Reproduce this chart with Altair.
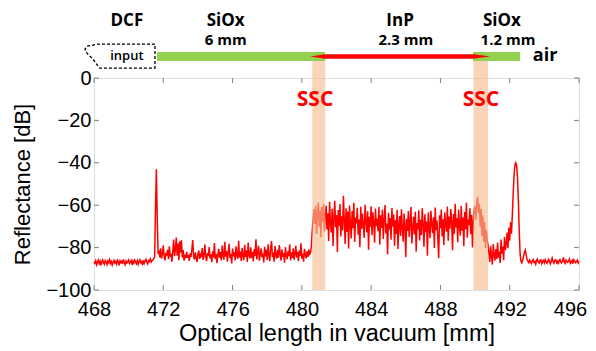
import altair as alt
import pandas as pd

# ---------------- data ----------------
x_start = 468.0
x_step = 0.05

seg_base_left = [
    -86.8, -87.4, -86.2, -88.1, -86.9, -85.9, -87.6, -86.4, -88.3, -86.7,
    -85.8, -87.2, -87.9, -86.1, -86.8, -88.0, -86.3, -87.1, -85.7, -87.5,
    -86.6, -88.2, -86.9, -86.0, -87.3, -86.5, -87.8, -85.9, -86.7, -88.4,
    -86.2, -87.0, -86.4, -87.7, -85.6, -86.9, -88.0, -86.3, -87.2, -86.6,
    -85.8, -87.5, -86.9, -86.1, -88.1, -86.4, -87.3, -85.9, -86.8, -87.6,
    -86.2, -87.9, -86.5, -85.7, -87.1, -86.6, -88.2, -86.0, -87.4, -86.3,
    -85.5, -86.9, -87.7, -86.1, -86.6, -85.4, -86.8, -86.0, -85.9, -85.2]
seg_spike1 = [-84.5, -62.0, -43.0, -66.0, -83.0]
seg_fiber = [
    -82.1, -84.6, -80.3, -85.2, -83.0, -78.9, -84.1, -86.0, -82.5, -83.7,
    -81.0, -85.5, -79.4, -84.3, -82.8, -86.7, -81.6, -76.2, -84.0, -80.9,
    -75.3, -83.8, -78.1, -85.9, -77.0, -82.4, -76.5, -84.7, -81.2, -86.2,
    -83.3, -85.0, -82.0, -84.8, -83.6, -86.3, -82.7, -84.4, -80.8, -76.4,
    -83.9, -85.6, -82.3, -84.9, -86.8, -83.1, -81.4, -85.3, -83.4, -84.5,
    -80.2, -85.8, -83.7, -78.6, -84.2, -86.4, -82.6, -84.0, -79.7, -85.1,
    -83.2, -86.9, -81.8, -84.6, -77.8, -85.4, -82.9, -87.3, -83.5, -80.6,
    -84.8, -82.1, -86.1, -79.0, -83.9, -85.7, -77.3, -84.3, -81.5, -86.6,
    -82.4, -78.2, -85.0, -83.0, -87.5, -80.5, -84.1, -82.2, -86.0, -79.4,
    -83.6, -85.3, -76.8, -84.7, -81.9, -86.3, -80.1, -83.8, -85.9, -78.7,
    -84.4, -81.3, -86.8, -77.6, -83.3, -85.1, -79.9, -84.9, -82.0, -86.5,
    -80.7, -84.0, -76.1, -85.6, -82.5, -79.1, -86.2, -83.1, -80.4, -84.6,
    -82.8, -87.0, -79.6, -84.2, -81.1, -85.8, -78.4, -83.5, -86.4, -80.0,
    -76.9, -84.5, -82.3, -86.7, -79.3, -83.9, -85.2, -81.0, -84.8, -78.8,
    -83.0, -86.1, -80.8, -84.3, -82.6, -87.1, -79.8, -83.7, -85.5, -81.7,
    -84.1, -78.5, -86.0, -82.2, -84.9, -80.3, -85.7, -83.2, -79.2, -84.6,
    -82.0, -86.4, -81.4, -84.0, -78.0, -85.2, -82.9, -86.6, -80.6, -83.4,
    -85.1, -81.8, -84.4, -80.9, -83.1, -82.4]
seg_ssc1 = [-79.5, -72.0, -66.5, -61.8, -68.9, -60.3, -73.6, -64.1, -58.7,
            -70.2, -62.5, -75.1, -61.0, -67.8, -59.6, -72.4, -64.9]
seg_inp = [
    -60.2, -71.5, -63.8, -76.9, -58.4, -68.3, -73.0, -61.7, -79.2, -66.0,
    -57.9, -70.4, -64.6, -82.1, -62.3, -69.7, -59.5, -74.8, -65.2, -71.9,
    -55.6, -67.1, -78.3, -61.4, -72.6, -63.0, -80.4, -60.1, -69.0, -75.7,
    -62.8, -70.9, -58.9, -77.4, -65.9, -68.6, -61.2, -73.9, -66.7, -79.8,
    -60.7, -71.2, -64.0, -69.5, -75.4, -59.8, -67.5, -72.8, -62.9, -81.0,
    -65.4, -70.1, -60.5, -74.2, -63.3, -68.0, -77.7, -61.6, -69.9, -66.3,
    -72.3, -60.9, -78.6, -64.8, -70.7, -62.1, -75.9, -67.4, -59.9, -73.3,
    -68.7, -83.2, -63.6, -71.6, -66.1, -76.3, -61.3, -70.0, -64.4, -79.1,
    -67.0, -73.6, -62.2, -80.7, -69.3, -65.0, -74.5, -61.9, -71.0, -77.2,
    -63.9, -69.6, -84.5, -66.4, -72.1, -62.7, -75.0, -68.2, -60.8, -78.0,
    -70.6, -65.5, -73.8, -63.1, -81.9, -68.4, -71.4, -62.4, -76.6, -66.9,
    -74.0, -61.5, -69.1, -79.6, -64.3, -72.7, -67.7, -83.8, -63.4, -70.3,
    -75.6, -62.6, -68.8, -73.2, -65.7, -80.2, -61.1, -71.8, -67.2, -76.0,
    -85.0, -64.7, -70.8, -62.0, -74.7, -66.6, -78.9, -63.5, -69.2, -72.5,
    -60.6, -76.8, -65.3, -71.1, -61.8, -68.1, -81.3, -64.2, -73.5, -59.3,
    -70.5, -66.2, -77.5, -62.1, -69.8, -74.4, -60.4, -72.0, -65.8, -79.4,
    -63.2, -71.3, -58.8, -75.3, -66.8, -69.4, -61.4, -73.7, -64.5, -80.0,
    -67.3, -62.0]
seg_ssc2 = [-60.5, -66.8, -58.2, -56.0, -63.7, -59.4, -70.1, -61.8, -74.5,
            -64.9, -77.3, -68.0, -80.2, -71.6, -76.4, -79.0]
seg_sio2 = [
    -82.5, -86.8, -79.1, -84.2, -88.0, -78.3, -83.6, -86.1, -80.7, -85.4,
    -77.6, -84.8, -81.9, -87.3, -76.2, -82.8, -79.5, -85.9, -75.0, -81.2,
    -78.4, -72.9, -80.3, -70.6, -76.7, -68.1, -73.4, -64.8]
seg_facet = [-55.0, -46.0, -41.0, -40.0, -41.5, -47.0, -58.0, -72.0, -83.0,
             -86.5, -87.2, -86.0, -84.0, -82.3, -81.2, -83.4, -85.6]
seg_base_right = [
    -86.4, -87.1, -85.9, -86.8, -87.5, -86.2, -85.6, -87.0, -86.6, -87.8,
    -86.0, -85.4, -86.9, -87.3, -86.1, -85.8, -87.6, -86.5, -86.0, -87.2,
    -85.7, -86.8, -87.4, -86.3, -85.5, -86.9, -87.7, -86.2, -84.9, -86.6,
    -87.3, -86.0, -85.8, -87.1, -86.4, -87.9, -86.1, -85.6, -86.7, -87.2,
    -86.3, -84.6, -86.9, -87.5, -85.9, -86.5, -87.0, -86.2, -85.3, -87.4,
    -86.8, -86.0, -87.6, -85.7, -86.4, -87.1, -86.6, -85.9, -87.3, -86.5]

refl = (seg_base_left + seg_spike1 + seg_fiber + seg_ssc1 + seg_inp
        + seg_ssc2 + seg_sio2 + seg_facet + seg_base_right)
positions = [round(x_start + i * x_step, 2) for i in range(len(refl))]

x_ticks = [468, 472, 476, 480, 484, 488, 492, 496]
y_ticks = [0, -20, -40, -60, -80, -100]

ssc_start = [480.6, 489.9]
ssc_end = [481.35, 490.75]
ssc_label_x = [480.76, 490.34]
ssc_label_y = [-10.4, -10.4]

# structure diagram (above the plot)
bar_level = 10.2
green_start = [471.64, 489.88]
green_end = [481.34, 492.6]
inp_start = [481.34]
inp_end = [489.88]
arrow_tip = [480.47, 490.86]

input_box_x = [471.52, 468.23, 467.62, 467.48, 467.58, 467.95, 468.2, 468.32, 471.52, 471.52]
input_box_y = [16.0, 16.0, 15.0, 13.6, 11.8, 8.8, 6.0, 4.7, 4.7, 16.0]

head_text = ["DCF", "SiOx", "InP", "SiOx"]
head_x = [469.9, 475.6, 485.67, 491.55]
head_y = [26.9, 26.9, 26.9, 26.9]
sub_text = ["6 mm", "2.3 mm", "1.2 mm"]
sub_x = [475.6, 486.0, 491.9]
sub_y = [17.7, 17.7, 17.7]

# ---------------- chart ----------------
W, H = 485, 212
AX_FONT = "Arial, Liberation Sans, Helvetica, sans-serif"
DG_FONT = "Open Sans"
xs = alt.Scale(domain=[468, 496], nice=False, zero=False)
ys = alt.Scale(domain=[-100, 0], nice=False, zero=False)

x_axis = alt.Axis(
    values=x_ticks, title="Optical length in vacuum [mm]", ticks=False, grid=False,
    domain=False, labelPadding=9, titlePadding=2, labelFontSize=20, titleFontSize=23.5,
    labelFont=AX_FONT, titleFont=AX_FONT, titleFontWeight="normal",
    labelColor="black", titleColor="black", labelFlush=False, labelOverlap=False,
    labelOffset={"condition": {"test": "datum.value == 496", "value": -9}, "value": 0})
y_axis = alt.Axis(
    values=y_ticks, title="Reflectance [dB]", ticks=False, grid=False,
    domain=False, labelPadding=3, titlePadding=11, labelFontSize=20, titleFontSize=22,
    labelFont=AX_FONT, titleFont=AX_FONT, titleFontWeight="normal",
    labelColor="black", titleColor="black", labelFlush=False, labelOverlap=False)


def X(field, **kw):
    return alt.X(field, scale=xs, axis=x_axis, **kw)


def Y(field, **kw):
    return alt.Y(field, scale=ys, axis=y_axis, **kw)


trace = pd.DataFrame({"x": positions, "y": refl})
line = alt.Chart(trace).mark_line(color="#ff0000", strokeWidth=1.5).encode(
    x=X("x:Q"), y=Y("y:Q"))

bands_df = pd.DataFrame({"start": ssc_start, "end": ssc_end})
bands = alt.Chart(bands_df).mark_rect(color="#f4bf92", opacity=0.65).encode(
    x=X("start:Q"), x2="end:Q", y=alt.value(H), y2=alt.value(-21))

xt = pd.DataFrame({"t": x_ticks})
yt = pd.DataFrame({"t": y_ticks})
tick_col = "#808080"
tick_b = alt.Chart(xt).mark_rule(color=tick_col).encode(
    x=X("t:Q"), y=alt.value(H), y2=alt.value(H - 5))
tick_t = alt.Chart(xt).mark_rule(color=tick_col).encode(
    x=X("t:Q"), y=alt.value(0), y2=alt.value(5))
tick_l = alt.Chart(yt).mark_rule(color=tick_col).encode(
    y=Y("t:Q"), x=alt.value(0), x2=alt.value(5))
tick_r = alt.Chart(yt).mark_rule(color=tick_col).encode(
    y=Y("t:Q"), x=alt.value(W), x2=alt.value(W - 5))

green_df = pd.DataFrame({"s": green_start, "e": green_end, "y": [bar_level] * 2})
green = alt.Chart(green_df).mark_rule(color="#92d050", strokeWidth=9).encode(
    x=X("s:Q"), x2="e:Q", y=Y("y:Q"))
red_df = pd.DataFrame({"s": inp_start, "e": inp_end, "y": [bar_level]})
red = alt.Chart(red_df).mark_rule(color="#ff0000", strokeWidth=4.5).encode(
    x=X("s:Q"), x2="e:Q", y=Y("y:Q"))
arrL = pd.DataFrame({"x": [(arrow_tip[0] + inp_start[0]) / 2], "y": [bar_level]})
arrR = pd.DataFrame({"x": [(arrow_tip[1] + inp_end[0]) / 2], "y": [bar_level]})
arrow_l = alt.Chart(arrL).mark_point(
    shape="M-1,0L1,-0.3L1,0.3Z", filled=True, color="#ff0000", opacity=1, size=225, strokeWidth=0).encode(
    x=X("x:Q"), y=Y("y:Q"))
arrow_r = alt.Chart(arrR).mark_point(
    shape="M1,0L-1,-0.28L-1,0.28Z", filled=True, color="#ff0000", opacity=1, size=289, strokeWidth=0).encode(
    x=X("x:Q"), y=Y("y:Q"))

box_df = pd.DataFrame({"x": input_box_x, "y": input_box_y, "o": list(range(len(input_box_x)))})
box = alt.Chart(box_df).mark_line(color="black", strokeWidth=1.3, strokeDash=[3, 2]).encode(
    x=X("x:Q"), y=Y("y:Q"), order="o:Q")


def text_layer(df, size, color="black", weight="bold"):
    return alt.Chart(df).mark_text(
        font=DG_FONT, fontSize=size, fontWeight=weight, color=color,
        align="center", baseline="middle").encode(
        x=X("x:Q"), y=Y("y:Q"), text="t:N")


heads = text_layer(pd.DataFrame({"x": head_x, "y": head_y, "t": head_text}), 17)
subs = text_layer(pd.DataFrame({"x": sub_x, "y": sub_y, "t": sub_text}), 15)
inp_lbl = text_layer(pd.DataFrame({"x": [469.9], "y": [10.4], "t": ["input"]}), 13, weight=600)
air_lbl = text_layer(pd.DataFrame({"x": [494.04], "y": [bar_level], "t": ["air"]}), 18)
ssc_lbl = text_layer(pd.DataFrame({"x": ssc_label_x, "y": ssc_label_y, "t": ["SSC", "SSC"]}), 21, color="#ff0000")

chart = alt.layer(
    line, bands, tick_b, tick_t, tick_l, tick_r,
    green, red, arrow_l, arrow_r, box,
    heads, subs, inp_lbl, air_lbl, ssc_lbl,
).properties(
    width=W, height=H,
    autosize=alt.AutoSizeParams(type="none"),
    padding={"left": 86, "top": 70, "right": 9, "bottom": 61},
).configure_view(stroke="#808080", strokeWidth=1.2).configure(background="white")

chart.save("out.html", embed_options={"renderer": "svg", "actions": False})
